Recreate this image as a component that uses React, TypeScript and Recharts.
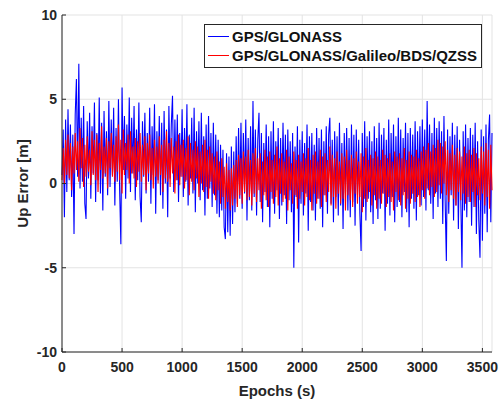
import { LineChart, Line, XAxis, YAxis, CartesianGrid, Legend, Label } from "recharts";

// epochs are every 10 s, 0 .. 3580
const epochStep = 10;

const gpsGlonass = [
  0.5, 3.2, -2.0, 3.8, -0.5, 4.4, 0.2, 3.5, -0.8, 2.9, -3.0, 4.1, 6.2, 0.4, 7.1, -0.3, 3.9, 0.1, 4.6, -1.2,
  -2.1, 3.7, 0.3, 4.2, -0.9, 3.4, 0.6, 4.8, -1.1, 3.0, 0.2, 5.1, -0.6, 3.6, -1.6, 4.3, 0.4, 3.1, -0.7, 4.9,
  -0.2, 3.8, 0.5, 4.5, -1.3, 3.3, 0.1, 5.0, -0.4, -3.6, 5.7, 0.8, 4.0, -0.9, 3.5, 0.3, 5.1, -0.5, 3.9, 0.6,
  4.6, -1.0, 3.2, 0.2, 4.8, -0.8, -2.3, 3.7, 0.4, 4.2, -0.6, 3.0, 0.1, 4.5, -1.2, 3.4, 0.5, 4.7, -1.8, 3.1,
  0.2, 4.0, -0.7, 3.6, -1.5, 4.3, 0.0, 3.2, -2.0, 4.6, 0.3, 3.5, 5.2, -0.5, 3.8, 0.2, 4.1, -1.1, 3.0, 0.4,
  4.4, -0.8, 3.3, 0.1, 4.7, -1.3, 2.9, 0.3, 3.9, -0.6, 4.5, -1.7, 3.1, 0.0, 3.7, -1.0, 4.2, -0.4, 2.8, -1.9,
  3.5, -0.9, 4.0, -0.3, 3.0, -1.4, 3.6, -0.7, 2.9, -1.8, 2.6, -2.0, 2.3, -1.6, 2.0, -2.6, -3.3, 1.8, -2.9, 1.6,
  -3.1, 2.2, -2.4, 1.9, -1.7, 2.8, -1.2, 3.3, -0.9, 3.6, -1.5, 3.0, -0.6, 3.8, -2.2, 2.7, -1.0, 3.4, -1.6, 4.9,
  -0.8, 3.2, -1.9, 2.6, 4.2, -1.1, 3.0, -2.3, 2.4, -0.5, 3.5, -1.4, 2.8, -2.6, 3.1, -0.9, 3.7, -1.8, 2.5, -0.4,
  3.3, -2.1, 2.7, -1.3, 3.6, -0.7, 2.9, -2.4, 3.2, -1.0, 2.5, -1.7, 3.0, -5.0, 2.2, -0.8, 3.4, -3.5, 2.6, -1.2,
  3.1, -1.9, 2.4, -0.6, 3.5, -2.8, 2.8, -1.1, 3.0, -1.6, 2.3, -2.2, 3.3, -0.9, 2.7, -1.5, 3.2, -2.6, 2.5, -0.7,
  3.4, -1.8, 2.9, 3.9, -1.2, 2.6, -2.3, 3.1, -0.8, 2.8, -1.9, 3.6, -1.3, 2.4, -2.7, 3.0, -0.6, 3.3, -1.6, 2.7,
  -2.0, 3.5, -1.1, 2.9, -2.5, 3.2, -0.7, 2.6, -1.8, -4.0, 3.0, -1.4, 3.7, -2.2, 2.8, -0.9, 3.1, -1.7, 2.5, -2.4,
  3.4, -1.0, 2.7, -2.1, 3.6, -1.5, 2.9, -0.6, 3.3, -2.8, 2.6, -1.2, 3.8, -1.9, 3.0, -0.8, 3.5, -2.3, 2.8, -1.4,
  3.9, -1.1, 3.2, -2.0, 2.7, -0.5, 3.6, -1.7, 3.0, -2.6, 3.3, -0.9, 2.9, -1.5, 3.7, -2.2, 3.1, -0.7, 3.4, -1.3,
  3.8, -0.8, 3.2, -1.6, 4.9, -0.4, 3.5, -1.2, 3.0, -2.1, 3.9, -0.6, 3.3, -1.4, 3.7, -0.9, 3.1, -2.4, 4.0, -1.0,
  -4.6, 3.2, -1.8, 2.8, -0.7, 3.6, -2.2, 2.9, -1.3, 3.4, -2.7, 2.6, -0.9, -5.0, 3.1, -1.6, 3.5, -2.0, 2.7, -1.1,
  3.3, -2.5, 2.9, -1.4, 3.6, -3.0, 2.5, -2.2, -4.4, 3.2, -3.4, 2.8, -1.8, 3.5, -2.9, 2.6, 4.1, -2.3, 3.0,
];

const multiGnss = [
  0.2, 2.1, 0.0, 2.6, 0.5, 2.9, 0.3, 2.4, -0.4, 2.2, 0.6, 3.0, 0.8, 2.5, 0.1, 3.3, 0.9, 2.7, -0.2, 2.3,
  0.4, 2.8, 0.7, 2.0, -0.1, 3.1, 0.5, 2.6, 0.2, 2.9, -0.5, 2.4, 0.8, 3.4, 0.3, 2.2, 0.6, 2.7, -0.3, 2.5,
  0.9, 3.0, 0.4, 2.3, 0.1, 2.8, 0.7, 3.5, 0.2, 2.6, -0.6, 3.2, 0.5, 2.4, 0.8, 2.9, 0.0, 3.1, 0.6, 2.2,
  0.3, 2.7, -0.2, 2.5, 0.7, 3.0, 0.1, 2.3, 0.5, 2.8, -0.4, 2.4, 0.6, 2.9, 0.2, 2.1, -0.3, 2.6, 0.4, 2.2,
  0.0, 2.8, 0.5, 2.3, -0.5, 2.6, 0.3, 3.1, 0.1, 2.4, -0.2, 2.7, 0.6, 2.2, -0.6, 2.5, 0.2, 2.9, -0.1, 2.3,
  0.4, 2.6, -0.3, 2.1, 0.2, 2.8, -0.7, 2.4, 0.1, 2.0, -0.4, 2.5, 0.3, 2.2, -0.8, 1.9, 0.0, 2.3, -0.5, 2.6,
  -0.2, 2.0, -0.9, 2.2, 0.1, 1.8, -0.6, 1.6, -1.0, 1.9, -0.4, 1.3, -1.2, 1.5, -0.8, 1.0, -1.5, 1.2, -1.1, 0.8,
  -1.6, 0.9, -1.3, 1.1, -0.9, 1.4, -1.4, 1.7, -0.7, 1.5, -1.2, 1.9, -0.5, 1.6, -1.0, 2.0, -0.8, 1.4, -1.3, 1.8,
  -0.6, 2.1, -1.1, 1.5, -0.4, 1.8, -1.5, 1.3, -0.7, 2.0, -1.0, 1.6, -1.4, 1.9, -0.5, 1.4, -1.2, 1.7, -0.8, 2.2,
  -1.3, 1.5, -0.6, 1.8, -1.1, 1.3, -0.9, 2.0, -1.6, 1.6, -0.4, 1.2, -1.2, 1.9, -0.7, 1.4, -1.5, 1.7, -0.9, 1.3,
  -0.5, 1.8, -1.3, 1.5, -0.8, 2.1, -1.0, 1.4, -1.6, 1.7, -0.6, 1.9, -1.2, 1.3, -0.9, 2.0, -1.4, 1.6, -0.7, 1.8,
  -1.1, 1.4, -0.5, 2.2, -1.3, 1.7, -0.8, 1.5, -1.5, 1.9, -0.6, 1.3, -1.2, 1.8, -0.9, 1.6, -1.6, 2.0, -0.7, 1.4,
  -1.0, 1.7, -1.4, 1.5, -0.6, 1.9, -1.2, 1.3, -0.8, 1.8, -1.7, 1.6, -0.9, 2.1, -1.1, 1.4, -0.5, 1.7, -1.3, 1.5,
  -0.7, 1.9, -1.5, 1.6, -0.9, 1.4, -1.2, 2.0, -0.6, 1.7, -1.4, 1.5, -0.8, 1.8, -1.1, 1.3, -1.6, 1.9, -0.5, 1.6,
  -1.0, 1.8, -1.3, 1.5, -0.7, 2.1, -1.5, 1.4, -0.9, 1.9, -1.2, 1.7, -0.6, 1.6, -1.1, 2.0, -0.8, 1.5, -1.4, 1.9,
  -0.4, 2.2, -0.9, 2.0, -0.3, 2.4, -0.7, 1.9, -0.2, 2.3, -0.8, 2.1, -0.5, 2.6, -0.1, 2.4, -0.6, 2.2, 0.0, 2.5,
  -0.7, 2.0, -1.1, 1.8, -0.4, 2.3, -0.9, 1.7, -1.3, 2.1, -0.5, 1.9, -1.0, 1.6, -0.6, 2.2, -1.2, 1.8, -0.8, 2.0,
  -1.1, 1.7, -0.5, 2.1, -1.4, 1.8, -0.7, 1.5, -1.0, 2.2, -0.6, 1.9, -1.3, 2.4, -0.8, 2.0, -1.5, 2.3, -0.4,
];

const xTicks = [0, 500, 1000, 1500, 2000, 2500, 3000, 3500];
const yTicks = [-10, -5, 0, 5, 10];

const seriesNames = ["GPS/GLONASS", "GPS/GLONASS/Galileo/BDS/QZSS"];
const seriesColors = ["#0000ff", "#ff0000"];

const data = gpsGlonass.map((v, i) => ({
  t: i * epochStep,
  gps: v,
  multi: multiGnss[i],
}));

const font = "'Liberation Sans', Arial, sans-serif";
const axisColor = "#262626";
const tickStyle = { fontSize: 14, fontWeight: 700, fill: axisColor, fontFamily: font };

function LegendBox() {
  return (
    <div
      style={{
        width: 276,
        height: 40,
        border: `1px solid ${axisColor}`,
        background: "#fff",
        fontFamily: font,
        fontWeight: 700,
        fontSize: 15,
        color: "#111",
        paddingTop: 2,
        boxSizing: "content-box",
      }}
    >
      {seriesNames.map((n, i) => (
        <div key={n} style={{ display: "flex", alignItems: "center", height: 19, lineHeight: "19px" }}>
          <span style={{ display: "inline-block", width: 21, height: 0, borderTop: `1px solid ${seriesColors[i]}`, marginLeft: 3, marginRight: 3 }} />
          <span>{n}</span>
        </div>
      ))}
    </div>
  );
}

export default function App() {
  return (
    <div style={{ position: "absolute", left: 0, top: 0, width: 501, height: 401, background: "#fff" }}>
      <LineChart width={501} height={401} data={data} margin={{ top: 15, right: 9, bottom: 0, left: 0 }}>
        <CartesianGrid stroke="#e3e3e3" strokeWidth={1} />
        <XAxis
          dataKey="t"
          type="number"
          domain={[0, 3580]}
          ticks={xTicks}
          height={49}
          tickSize={-4}
          tickMargin={14}
          stroke={axisColor}
          tick={tickStyle}
          axisLine={{ stroke: axisColor }}
          tickLine={{ stroke: axisColor }}
        >
          <Label value="Epochs (s)" position="center" dy={14} style={{ fontSize: 15, fontWeight: 700, fill: axisColor, fontFamily: font }} />
        </XAxis>
        <XAxis xAxisId="top" orientation="top" type="number" domain={[0, 3580]} ticks={xTicks} height={0} tickSize={-4} tick={false} stroke={axisColor} />
        <YAxis
          type="number"
          domain={[-10, 10]}
          ticks={yTicks}
          width={62}
          tickSize={-4}
          tickMargin={9}
          stroke={axisColor}
          tick={tickStyle}
          axisLine={{ stroke: axisColor }}
          tickLine={{ stroke: axisColor }}
        >
          <Label value="Up Error [m]" angle={-90} position="center" dx={-8} style={{ fontSize: 15, fontWeight: 700, fill: axisColor, fontFamily: font, textAnchor: "middle" }} />
        </YAxis>
        <YAxis yAxisId="right" orientation="right" type="number" domain={[-10, 10]} ticks={yTicks} width={0} tickSize={-4} tick={false} stroke={axisColor} />
        <Legend
          content={() => <LegendBox />}
          layout="horizontal"
          verticalAlign="middle"
          align="center"
          wrapperStyle={{ left: 204, top: 24, width: 278 }}
        />
        <Line dataKey="gps" name={seriesNames[0]} stroke={seriesColors[0]} strokeWidth={1.1} dot={false} isAnimationActive={false} />
        <Line dataKey="multi" name={seriesNames[1]} stroke={seriesColors[1]} strokeWidth={1.1} dot={false} isAnimationActive={false} />
      </LineChart>
    </div>
  );
}
